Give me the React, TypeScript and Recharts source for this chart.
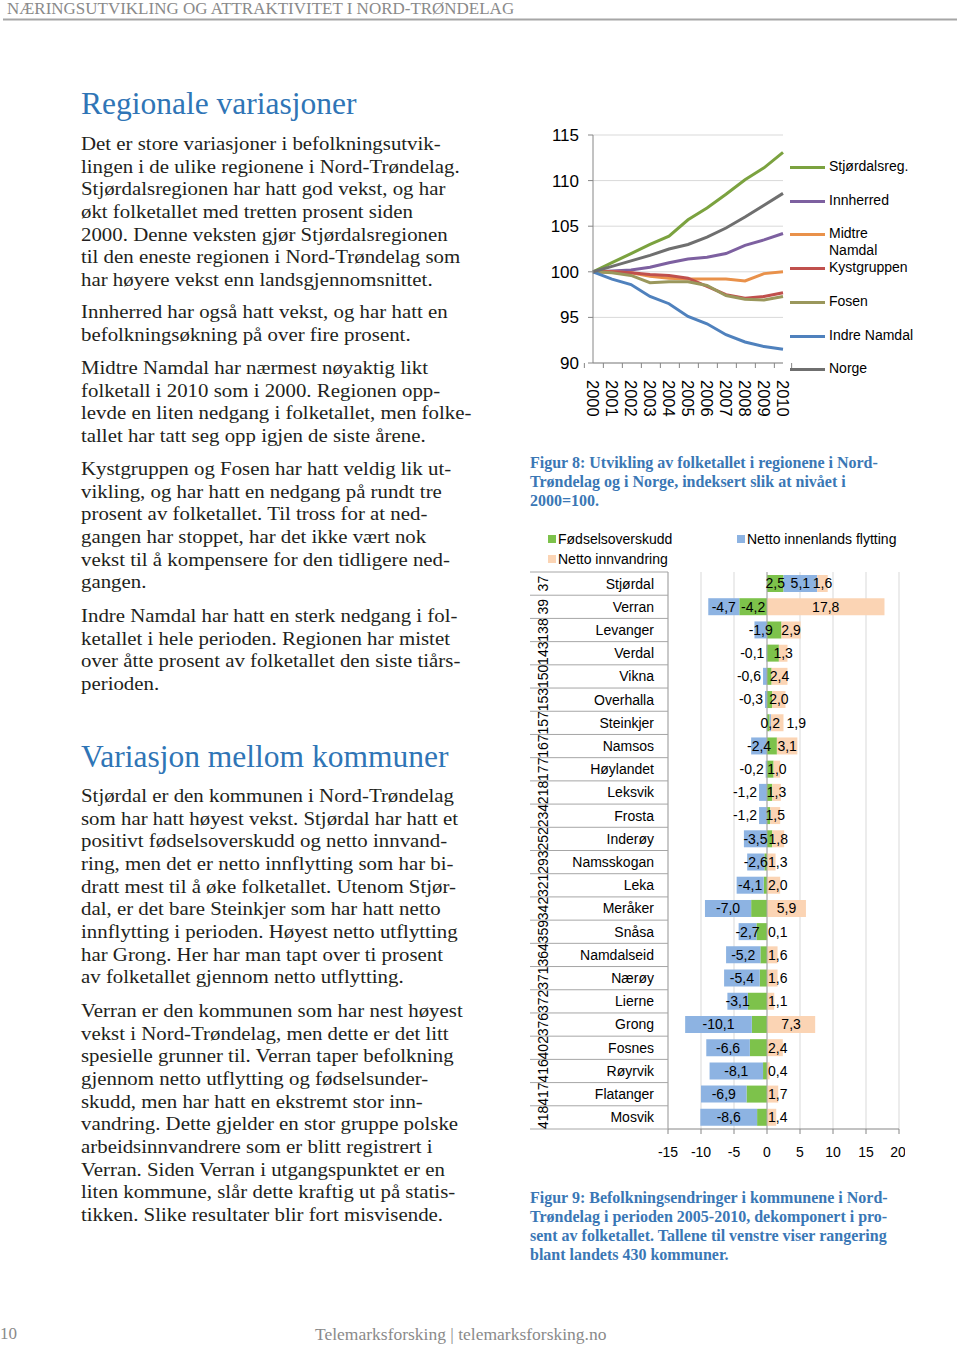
import React from "react";
import {
  LineChart,
  Line,
  XAxis,
  YAxis,
  CartesianGrid,
  BarChart,
  Bar,
  LabelList,
  ReferenceLine,
} from "recharts";

// ---- Figur 8: befolkningsindeks (2000 = 100)
const years = ["2000", "2001", "2002", "2003", "2004", "2005", "2006", "2007", "2008", "2009", "2010"];
const stjordalsreg = [100, 101.0, 102.0, 103.0, 103.9, 105.7, 107.0, 108.5, 110.1, 111.4, 113.1];
const innherred = [100, 100.1, 100.2, 100.5, 101.0, 101.4, 101.6, 102.0, 102.9, 103.5, 104.2];
const midtreNamdal = [100, 100.0, 99.9, 99.5, 99.3, 99.2, 99.2, 99.2, 99.0, 99.8, 100.0];
const kystgruppen = [100, 100.0, 99.9, 99.7, 99.6, 99.3, 98.4, 97.5, 97.1, 97.3, 97.7];
const fosen = [100, 99.9, 99.6, 98.8, 98.9, 98.9, 98.5, 97.4, 97.0, 96.9, 97.3];
const indreNamdal = [100, 99.2, 98.6, 97.3, 96.5, 95.1, 94.3, 93.1, 92.3, 91.8, 91.5];
const norge = [100, 100.6, 101.2, 101.8, 102.5, 103.0, 103.8, 104.8, 106.0, 107.3, 108.6];
const indexTicks = [90, 95, 100, 105, 110, 115];

const regionNames = ["Stjørdalsreg.", "Innherred", "Midtre Namdal", "Kystgruppen", "Fosen", "Indre Namdal", "Norge"];
const regionSeries = [stjordalsreg, innherred, midtreNamdal, kystgruppen, fosen, indreNamdal, norge];
const regionColors = ["#7BA23F", "#7D60A0", "#E9914A", "#C0504D", "#9A975C", "#4F81BD", "#6F6F6F"];

// ---- Figur 9: befolkningsendringer 2005-2010, prosent av folketallet
const kommuner = [
  "Stjørdal", "Verran", "Levanger", "Verdal", "Vikna", "Overhalla", "Steinkjer", "Namsos",
  "Høylandet", "Leksvik", "Frosta", "Inderøy", "Namsskogan", "Leka", "Meråker", "Snåsa",
  "Namdalseid", "Nærøy", "Lierne", "Grong", "Fosnes", "Røyrvik", "Flatanger", "Mosvik",
];
const rangering = [
  "37", "39", "138", "143", "150", "153", "157", "167", "177", "218", "234", "252",
  "293", "321", "342", "359", "364", "371", "372", "376", "402", "416", "417", "418",
];
const fodselsoverskudd = [2.5, -4.2, 2.2, 1.8, 0.7, 0.8, 0.4, 1.5, 1.0, 0.8, 0.5, 0.8, -0.4, -0.5, -2.4, -1.6, -1.0, -1.1, -2.9, -2.3, -2.6, -0.6, -3.1, -1.5];
const innenlandsFlytting = [5.1, -4.7, -1.9, -0.1, -0.6, -0.3, 0.2, -2.4, -0.2, -1.2, -1.2, -3.5, -2.6, -4.1, -7.0, -2.7, -5.2, -5.4, -3.1, -10.1, -6.6, -8.1, -6.9, -8.6];
const innvandring = [1.6, 17.8, 2.9, 1.3, 2.4, 2.0, 1.9, 3.1, 1.0, 1.3, 1.5, 1.8, 1.3, 2.0, 5.9, 0.1, 1.6, 1.6, 1.1, 7.3, 2.4, 0.4, 1.7, 1.4];
const labelledBirths = ["Stjørdal", "Verran"];
const percentTicks = [-15, -10, -5, 0, 5, 10, 15, 20];

const GREEN = "#7DC24B";
const BLUE = "#8DB3E2";
const PEACH = "#FBD4B4";

const lineRows = years.map((year, i) => {
  const row: Record<string, number | string> = { year };
  regionSeries.forEach((s, k) => {
    row["r" + k] = s[i];
  });
  return row;
});

const barRows = kommuner.map((name, i) => ({
  name,
  rank: rangering[i],
  fodsel: fodselsoverskudd[i],
  innenlands: innenlandsFlytting[i],
  innvandring: innvandring[i],
}));

const SANS = "'Liberation Sans', Arial, sans-serif";
const SERIF = "'Liberation Serif', 'Times New Roman', serif";

const LINE_PLOT_W = 190;
const BAR_PLOT_H = 557;
const ROW_H = BAR_PLOT_H / kommuner.length;

const fmt = (v: number) => v.toFixed(1).replace(".", ",");

const YearTick = (props: any) => {
  const { x, y, payload, index } = props;
  const band = LINE_PLOT_W / years.length;
  return (
    <g>
      <line x1={x - band / 2} x2={x - band / 2} y1={y} y2={y + 5} stroke="#868686" />
      {index === years.length - 1 && (
        <line x1={x + band / 2} x2={x + band / 2} y1={y} y2={y + 5} stroke="#868686" />
      )}
      <text
        transform={`translate(${x},${y + 17}) rotate(90)`}
        dy="0.35em"
        textAnchor="start"
        fontSize={16.5}
        fill="#000"
      >
        {payload.value}
      </text>
    </g>
  );
};

const RowTick = (props: any) => {
  const { x, y, payload, index } = props;
  const half = ROW_H / 2;
  return (
    <g>
      <line x1={5} x2={x} y1={y - half} y2={y - half} stroke="#a6a6a6" />
      {index === kommuner.length - 1 && <line x1={5} x2={x} y1={y + half} y2={y + half} stroke="#a6a6a6" />}
      <text x={x - 14} y={y} dy="0.35em" textAnchor="end" fontSize={14} fill="#000">
        {payload.value}
      </text>
      <text transform={`translate(18,${y}) rotate(-90)`} dy="0.35em" textAnchor="middle" fontSize={14} fill="#000">
        {rangering[index]}
      </text>
    </g>
  );
};

const makeLabel = (kind: "fodsel" | "innenlands" | "innvandring") => (props: any) => {
  const vb = props.viewBox ?? props;
  const x = props.x ?? vb.x;
  const y = props.y ?? vb.y;
  const width = props.width ?? vb.width;
  const height = props.height ?? vb.height;
  const index = props.index;
  const row = barRows[index];
  if (!row) return null;
  const value = row[kind];
  if (kind === "fodsel" && !labelledBirths.includes(row.name)) return null;
  const left = Math.min(x, x + width);
  const right = Math.max(x, x + width);
  const w = right - left;
  let tx = left + w / 2;
  let anchor: "middle" | "start" | "end" = "middle";
  if (kind === "innenlands" && value < 0 && w < 10) {
    tx = left - 2;
    anchor = "end";
  }
  if (kind === "innvandring" && w < 20) {
    if (row.innenlands > 0 && row.innenlands < 1) {
      tx = right + 3;
      anchor = "start";
    } else if (row.fodsel <= 0) {
      tx = left + 1;
      anchor = "start";
    }
  }
  return (
    <text x={tx} y={y + height / 2} dy="0.35em" textAnchor={anchor} fontSize={14} fill="#000" fontFamily={SANS}>
      {fmt(value)}
    </text>
  );
};

// ---- page text
const para1 = [
  "Det er store variasjoner i befolkningsutvik-",
  "lingen i de ulike regionene i Nord-Trøndelag.",
  "Stjørdalsregionen har hatt god vekst, og har",
  "økt folketallet med tretten prosent siden",
  "2000. Denne veksten gjør Stjørdalsregionen",
  "til den eneste regionen i Nord-Trøndelag som",
  "har høyere vekst enn landsgjennomsnittet.",
];
const para2 = ["Innherred har også hatt vekst, og har hatt en", "befolkningsøkning på over fire prosent."];
const para3 = [
  "Midtre Namdal har nærmest nøyaktig likt",
  "folketall i 2010 som i 2000. Regionen opp-",
  "levde en liten nedgang i folketallet, men folke-",
  "tallet har tatt seg opp igjen de siste årene.",
];
const para4 = [
  "Kystgruppen og Fosen har hatt veldig lik ut-",
  "vikling, og har hatt en nedgang på rundt tre",
  "prosent av folketallet. Til tross for at ned-",
  "gangen har stoppet, har det ikke vært nok",
  "vekst til å kompensere for den tidligere ned-",
  "gangen.",
];
const para5 = [
  "Indre Namdal har hatt en sterk nedgang i fol-",
  "ketallet i hele perioden. Regionen har mistet",
  "over åtte prosent av folketallet den siste tiårs-",
  "perioden.",
];
const para6 = [
  "Stjørdal er den kommunen i Nord-Trøndelag",
  "som har hatt høyest vekst. Stjørdal har hatt et",
  "positivt fødselsoverskudd og netto innvand-",
  "ring, men det er netto innflytting som har bi-",
  "dratt mest til å øke folketallet. Utenom Stjør-",
  "dal, er det bare Steinkjer som har hatt netto",
  "innflytting i perioden. Høyest netto utflytting",
  "har Grong. Her har man tapt over ti prosent",
  "av folketallet gjennom netto utflytting.",
];
const para7 = [
  "Verran er den kommunen som har nest høyest",
  "vekst i Nord-Trøndelag, men dette er det litt",
  "spesielle grunner til. Verran taper befolkning",
  "gjennom netto utflytting og fødselsunder-",
  "skudd, men har hatt en ekstremt stor inn-",
  "vandring. Dette gjelder en stor gruppe polske",
  "arbeidsinnvandrere som er blitt registrert i",
  "Verran. Siden Verran i utgangspunktet er en",
  "liten kommune, slår dette kraftig ut på statis-",
  "tikken. Slike resultater blir fort misvisende.",
];
const caption8 = [
  "Figur 8: Utvikling av folketallet i regionene i Nord-",
  "Trøndelag og i Norge, indeksert slik at nivået i",
  "2000=100.",
];
const caption9 = [
  "Figur 9: Befolkningsendringer i kommunene i Nord-",
  "Trøndelag i perioden 2005-2010, dekomponert i pro-",
  "sent av folketallet. Tallene til venstre viser rangering",
  "blant landets 430 kommuner.",
];

const BODY_LH = 22.67;
const BODY_SIZE = 19.5;
const BODY_SX = 1.07;
const BODY_COLOR = "#231F20";
const HEAD_COLOR = "#2F75B6";

const Lines = ({
  lines,
  x,
  y,
  lh,
  size,
  color,
  sx = 1,
  weight = "normal",
}: {
  lines: string[];
  x: number;
  y: number;
  lh: number;
  size: number;
  color: string;
  sx?: number;
  weight?: string;
}) => (
  <g transform={`translate(${x},0) scale(${sx},1)`}>
    <text fontFamily={SERIF} fontSize={size} fill={color} fontWeight={weight}>
      {lines.map((l, i) => (
        <tspan key={i} x={0} y={y + i * lh}>
          {l}
        </tspan>
      ))}
    </text>
  </g>
);

export default function App() {
  return (
    <div style={{ position: "absolute", left: 0, top: 0, width: 960, height: 1345, background: "#fff" }}>
      <svg width={960} height={1345} style={{ position: "absolute", left: 0, top: 0 }}>
        <Lines lines={["NÆRINGSUTVIKLING OG ATTRAKTIVITET I NORD-TRØNDELAG"]} x={7} y={14} lh={0} size={16.5} sx={1.03} color="#8a8a8a" />
        <line x1={3} x2={957} y1={19.5} y2={19.5} stroke="#a6a6a6" strokeWidth={2} />

        <Lines lines={["Regionale variasjoner"]} x={81} y={114} lh={0} size={31.5} color={HEAD_COLOR} />
        <Lines lines={para1} x={81} y={150} lh={BODY_LH} size={BODY_SIZE} sx={BODY_SX} color={BODY_COLOR} />
        <Lines lines={para2} x={81} y={318} lh={BODY_LH} size={BODY_SIZE} sx={BODY_SX} color={BODY_COLOR} />
        <Lines lines={para3} x={81} y={374} lh={BODY_LH} size={BODY_SIZE} sx={BODY_SX} color={BODY_COLOR} />
        <Lines lines={para4} x={81} y={475} lh={BODY_LH} size={BODY_SIZE} sx={BODY_SX} color={BODY_COLOR} />
        <Lines lines={para5} x={81} y={622} lh={BODY_LH} size={BODY_SIZE} sx={BODY_SX} color={BODY_COLOR} />

        <Lines lines={["Variasjon mellom kommuner"]} x={81} y={767} lh={0} size={31.5} color={HEAD_COLOR} />
        <Lines lines={para6} x={81} y={802} lh={BODY_LH} size={BODY_SIZE} sx={BODY_SX} color={BODY_COLOR} />
        <Lines lines={para7} x={81} y={1017} lh={BODY_LH} size={BODY_SIZE} sx={BODY_SX} color={BODY_COLOR} />

        <Lines lines={caption8} x={530} y={468} lh={19} size={16} color="#3A77B5" weight="bold" />
        <Lines lines={caption9} x={530} y={1203} lh={19} size={16} color="#3A77B5" weight="bold" />

        <Lines lines={["10"]} x={0} y={1339} lh={0} size={17} color="#8a8a8a" />
        <Lines lines={["Telemarksforsking  |  telemarksforsking.no"]} x={315} y={1340} lh={0} size={17.5} color="#8a8a8a" />
      </svg>

      {/* Figur 8 */}
      <div style={{ position: "absolute", left: 540, top: 120, width: 262, height: 310, fontFamily: SANS }}>
        <LineChart width={262} height={310} data={lineRows} margin={{ top: 15, right: 19, left: 0, bottom: 0 }}>
          <CartesianGrid vertical={false} stroke="#d9d9d9" />
          <XAxis
            dataKey="year"
            interval={0}
            tickSize={0}
            tickMargin={0}
            height={67}
            axisLine={{ stroke: "#868686" }}
            tick={<YearTick />}
          />
          <YAxis
            domain={[90, 115]}
            ticks={indexTicks}
            width={53}
            tickSize={5}
            tickMargin={9}
            axisLine={{ stroke: "#868686" }}
            tickLine={{ stroke: "#868686" }}
            tick={{ fontSize: 17, fill: "#000" }}
          />
          {regionNames.map((name, k) => (
            <Line
              key={name}
              name={name}
              dataKey={"r" + k}
              stroke={regionColors[k]}
              strokeWidth={3}
              dot={false}
              type="linear"
              isAnimationActive={false}
            />
          ))}
        </LineChart>
      </div>
      <div style={{ position: "absolute", left: 790, top: 158, width: 170, fontFamily: SANS, fontSize: 14, color: "#000" }}>
        {regionNames.map((name, k) => {
          const tops = [0, 34, 67, 101, 135, 169, 202];
          return (
            <div key={name} style={{ position: "absolute", left: 0, top: tops[k], display: "flex", alignItems: "flex-start" }}>
              <div style={{ width: 35, height: 3, background: regionColors[k], marginTop: 8 }} />
              <div style={{ marginLeft: 4, lineHeight: "16.5px", width: 100 }}>
                {name === "Midtre Namdal" ? (
                  <>
                    Midtre
                    <br />
                    Namdal
                  </>
                ) : (
                  name
                )}
              </div>
            </div>
          );
        })}
      </div>

      {/* Figur 9 */}
      <div style={{ position: "absolute", left: 548, top: 530, width: 400, fontFamily: SANS, fontSize: 14, color: "#000" }}>
        {[
          { label: "Fødselsoverskudd", color: GREEN, left: 0, top: 0 },
          { label: "Netto innenlands flytting", color: BLUE, left: 189, top: 0 },
          { label: "Netto innvandring", color: PEACH, left: 0, top: 20 },
        ].map((item) => (
          <div key={item.label} style={{ position: "absolute", left: item.left, top: item.top, display: "flex", alignItems: "center", height: 18 }}>
            <div style={{ width: 8, height: 8, background: item.color }} />
            <span style={{ marginLeft: 2, whiteSpace: "nowrap" }}>{item.label}</span>
          </div>
        ))}
      </div>
      <div style={{ position: "absolute", left: 525, top: 560, width: 380, height: 609, fontFamily: SANS }}>
        <BarChart
          width={380}
          height={609}
          data={barRows}
          layout="vertical"
          stackOffset="sign"
          barSize={17}
          margin={{ top: 12, right: 6, left: 0, bottom: 0 }}
        >
          <CartesianGrid horizontal={false} stroke="#d9d9d9" />
          <XAxis
            type="number"
            domain={[-15, 20]}
            ticks={percentTicks}
            height={40}
            tickSize={5}
            tickMargin={13}
            axisLine={{ stroke: "#868686" }}
            tickLine={{ stroke: "#868686" }}
            tick={{ fontSize: 14, fill: "#000" }}
          />
          <YAxis
            type="category"
            dataKey="name"
            width={143}
            interval={0}
            tickSize={0}
            tickMargin={0}
            axisLine={{ stroke: "#a6a6a6" }}
            tick={<RowTick />}
          />
          <ReferenceLine x={0} stroke="#a6a6a6" />
          <Bar dataKey="fodsel" stackId="a" fill={GREEN} isAnimationActive={false}>
            <LabelList dataKey="fodsel" content={makeLabel("fodsel")} />
          </Bar>
          <Bar dataKey="innenlands" stackId="a" fill={BLUE} isAnimationActive={false}>
            <LabelList dataKey="innenlands" content={makeLabel("innenlands")} />
          </Bar>
          <Bar dataKey="innvandring" stackId="a" fill={PEACH} isAnimationActive={false}>
            <LabelList dataKey="innvandring" content={makeLabel("innvandring")} />
          </Bar>
        </BarChart>
      </div>
    </div>
  );
}
